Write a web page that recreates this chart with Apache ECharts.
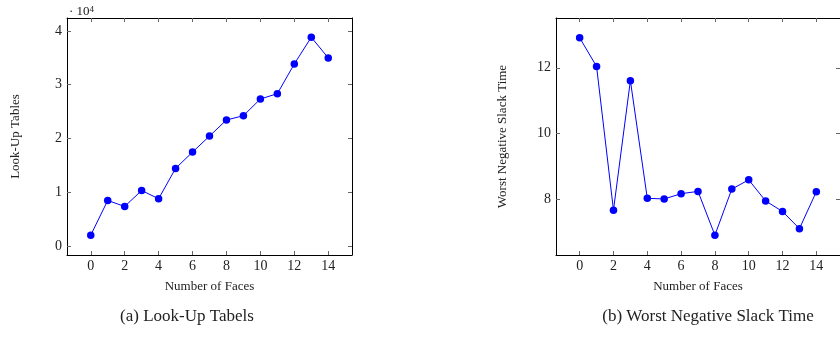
<!DOCTYPE html>
<html><head><meta charset="utf-8">
<script src="https://cdn.jsdelivr.net/npm/echarts@6/dist/echarts.min.js"></script>
<style>html,body{margin:0;padding:0;background:#fff}#c{width:840px;height:342px}</style>
</head><body><div id="c"></div>
<script>
const faces = [0,1,2,3,4,5,6,7,8,9,10,11,12,13,14];
const lutValues = [1990,8450,7330,10310,8760,14410,17450,20430,23420,24220,27330,28320,33850,38820,34970];
const wnsValues = [12.91,12.04,7.68,11.61,8.04,8.02,8.18,8.25,6.92,8.32,8.60,7.96,7.64,7.12,8.24];
const xTicks = [0,2,4,6,8,10,12,14];
const lutTicks = [0,10000,20000,30000,40000];
const wnsTicks = [8,10,12];
const xTitle = 'Number of Faces';
const lutTitle = 'Look-Up Tables';
const wnsTitle = 'Worst Negative Slack Time';
const captionA = '(a) Look-Up Tabels';
const captionB = '(b) Worst Negative Slack Time';

const FONT = 'Liberation Serif';
const chart = echarts.init(document.getElementById('c'), null, {renderer:'canvas'});

function xAx(gi, pos, show){
  return {type:'value', gridIndex:gi, position:pos, min:-1.4, max:15.4,
    axisLine:{show:true, onZero:false, lineStyle:{color:'#000', width:1}},
    axisTick:{show:true, inside:true, length:4, customValues:xTicks, lineStyle:{color:'#666'}},
    axisLabel:{show:show, customValues:xTicks, color:'#222', fontFamily:FONT, fontSize:14, margin:4},
    splitLine:{show:false},
    name: show ? xTitle : '', nameLocation:'middle', nameGap:25,
    nameTextStyle:{fontFamily:FONT, fontSize:13, color:'#222'}};
}
function yAx(gi, pos, show, min, max, ticks, fmt, title, gap){
  return {type:'value', gridIndex:gi, position:pos, min:min, max:max,
    axisLine:{show:true, onZero:false, lineStyle:{color:'#000', width:1}},
    axisTick:{show:true, inside:true, length:4, customValues:ticks, lineStyle:{color:'#666'}},
    axisLabel:{show:show, customValues:ticks, color:'#222', fontFamily:FONT, fontSize:14, margin:5, formatter:fmt},
    splitLine:{show:false},
    name: show ? title : '', nameLocation:'middle', nameGap:gap,
    nameTextStyle:{fontFamily:FONT, fontSize:13, color:'#222'}};
}

chart.setOption({
  animation:false,
  grid:[
    {left:67, top:18, width:285, height:237},
    {left:556, top:18, width:286, height:237}
  ],
  xAxis:[xAx(0,'bottom',true), xAx(0,'top',false), xAx(1,'bottom',true), xAx(1,'top',false)],
  yAxis:[
    yAx(0,'left',true,-1700,42400,lutTicks,v=>String(v/10000),lutTitle,45),
    yAx(0,'right',false,-1700,42400,lutTicks,null,'',0),
    yAx(1,'left',true,6.32,13.51,wnsTicks,null,wnsTitle,47),
    yAx(1,'right',false,6.32,13.51,wnsTicks,null,'',0)
  ],
  series:[
    {type:'line', xAxisIndex:0, yAxisIndex:0, data:faces.map((f,i)=>[f,lutValues[i]]),
     symbol:'circle', symbolSize:7.5, itemStyle:{color:'#0000ff'}, lineStyle:{color:'#0000ff', width:1}},
    {type:'line', xAxisIndex:2, yAxisIndex:2, data:faces.map((f,i)=>[f,wnsValues[i]]),
     symbol:'circle', symbolSize:7.5, itemStyle:{color:'#0000ff'}, lineStyle:{color:'#0000ff', width:1}}
  ],
  graphic:[
    {type:'text', left:69, top:5, style:{text:'· 10{s|4}', rich:{s:{fontSize:9, fontFamily:FONT, verticalAlign:'top', fill:'#222', padding:[0,0,5,0]}}, font:'13px "Liberation Serif"', fill:'#222'}},
    {type:'text', x:187, y:317, style:{text:captionA, font:'17px "Liberation Serif"', fill:'#222', align:'center', verticalAlign:'middle'}},
    {type:'text', x:708, y:317, style:{text:captionB, font:'17px "Liberation Serif"', fill:'#222', align:'center', verticalAlign:'middle'}}
  ]
});
</script></body></html>
